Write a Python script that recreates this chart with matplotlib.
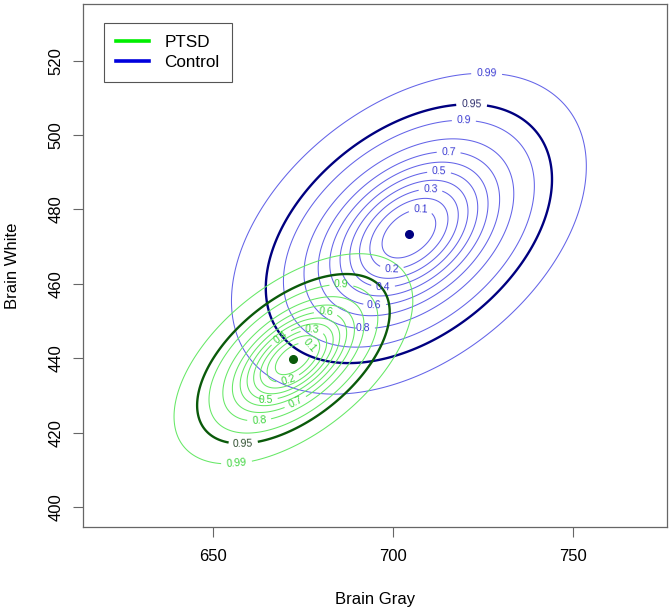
import numpy as np
import matplotlib.pyplot as plt

plt.rcParams['font.family'] = ['Liberation Sans', 'DejaVu Sans']

# probability levels of the contours
levels = [0.1, 0.2, 0.3, 0.4, 0.5, 0.6, 0.7, 0.8, 0.9, 0.95, 0.99]

# bivariate normal parameters (Brain Gray, Brain White)
ptsd_mean = [672.4, 439.9]
ptsd_sd = [10.9, 9.3]
ptsd_rho = 0.55

control_mean = [704.4, 473.5]
control_sd = [16.2, 14.2]
control_rho = 0.42

# direction (dx, dy) from the centre where each level's label sits
control_label_dir = {0.1: (1, 2), 0.2: (-1, -2), 0.3: (1, 2), 0.4: (-1, -2), 0.5: (1, 2),
                     0.6: (-1, -2), 0.7: (1, 2), 0.8: (-1, -2), 0.9: (1, 2),
                     0.95: (1, 2), 0.99: (1, 2)}
ptsd_label_dir = {0.1: (1, 0.8), 0.2: (-0.25, -1), 0.3: (1, 1.5), 0.4: (-0.6, 1),
                  0.5: (-0.7, -1), 0.6: (1, 1.4), 0.7: (0.05, -1), 0.8: (-0.57, -1),
                  0.9: (1, 1.5), 0.95: (-0.62, -1), 0.99: (-0.56, -1)}


def mahal2(X, Y, mean, sd, rho):
    zx = (X - mean[0]) / sd[0]
    zy = (Y - mean[1]) / sd[1]
    return (zx**2 - 2 * rho * zx * zy + zy**2) / (1 - rho**2)


def label_point(direction, c, mean, sd, rho):
    dx, dy = direction
    q = mahal2(mean[0] + dx, mean[1] + dy, mean, sd, rho)
    t = np.sqrt(c / q)
    return (mean[0] + t * dx, mean[1] + t * dy)


fig = plt.figure(figsize=(6.72, 6.13), dpi=100)
ax = fig.add_axes([0.123, 0.1408, 0.870, 0.8527])

xs = np.linspace(600, 790, 500)
ys = np.linspace(380, 550, 500)
X, Y = np.meshgrid(xs, ys)
chi = [-2 * np.log(1 - p) for p in levels]
fmt = {c: f"{p:g}" for c, p in zip(chi, levels)}

groups = [
    (control_mean, control_sd, control_rho, control_label_dir,
     '#6464e8', '#000080', '#3c3cd2', '#2a2a6a'),
    (ptsd_mean, ptsd_sd, ptsd_rho, ptsd_label_dir,
     '#66e866', '#0a5a0a', '#3cd43c', '#2d4d2d'),
]

for mean, sd, rho, ldir, thin, thick, lab, lab95 in groups:
    Z = mahal2(X, Y, mean, sd, rho)
    cols = [thick if p == 0.95 else thin for p in levels]
    lws = [1.7 if p == 0.95 else 0.75 for p in levels]
    cs = ax.contour(X, Y, Z, levels=chi, colors=cols, linewidths=lws)
    pos = [label_point(ldir[p], c, mean, sd, rho) for c, p in zip(chi, levels)]
    lcols = [lab95 if p == 0.95 else lab for p in levels]
    ax.clabel(cs, chi, inline=True, fmt=fmt, fontsize=7.5, colors=lcols,
              manual=pos, inline_spacing=3)
    ax.plot(mean[0], mean[1], 'o', color=thick, ms=5.5)

ax.plot([], [], color='#00ee00', lw=2.6, label='PTSD')
ax.plot([], [], color='#0000dd', lw=2.6, label='Control')
leg = ax.legend(loc='upper left', bbox_to_anchor=(0.0364, 0.963), borderaxespad=0,
                fancybox=False, framealpha=1, edgecolor='#555555', fontsize=12.3,
                handlelength=1.95, handletextpad=0.9, labelspacing=0.25, borderpad=0.7)
leg.get_frame().set_linewidth(0.8)

ax.set_xlim(614, 776)
ax.set_ylim(394.8, 535.2)
ax.set_xticks([650, 700, 750])
ax.set_yticks([400, 420, 440, 460, 480, 500, 520])
for lbl in ax.get_yticklabels():
    lbl.set_rotation(90)
    lbl.set_va('center')
ax.tick_params(length=7, width=0.8, color='#666666', labelsize=12, pad=9)
ax.tick_params(axis='y', pad=7)
for s in ax.spines.values():
    s.set_color('#666666')
    s.set_linewidth(0.9)

ax.set_xlabel('Brain Gray', fontsize=12, labelpad=20)
ax.set_ylabel('Brain White', fontsize=12, labelpad=20)

fig.savefig('out.png', dpi=100)
